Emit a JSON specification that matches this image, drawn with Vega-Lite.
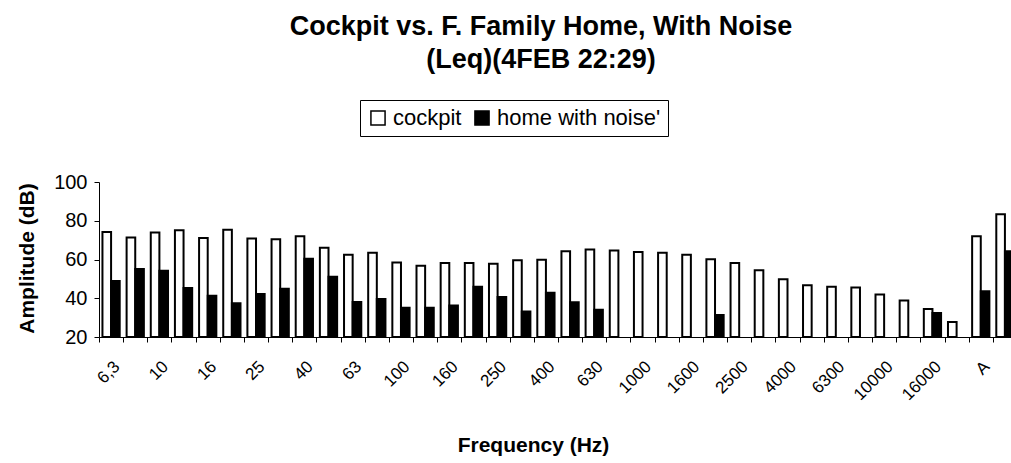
{
  "$schema": "https://vega.github.io/schema/vega-lite/v6.json",
  "autosize": {"type": "none"},
  "width": 912,
  "height": 155,
  "padding": {"left": 99, "top": 182, "right": 0, "bottom": 126},
  "background": "white",
  "config": {
    "font": "Liberation Sans",
    "view": {"stroke": null}
  },
  "title": {
    "text": ["Cockpit vs. F. Family Home, With Noise", "(Leq)(4FEB 22:29)"],
    "font": "Liberation Sans",
    "fontSize": 27,
    "fontWeight": "bold",
    "color": "black",
    "anchor": "middle",
    "dx": -14,
    "lineHeight": 33,
    "offset": 26
  },
  "data": {
    "values": [
      {"f": "6,3", "s": "cockpit", "v": 74.2},
      {"f": "8", "s": "cockpit", "v": 71.4},
      {"f": "10", "s": "cockpit", "v": 73.9},
      {"f": "12,5", "s": "cockpit", "v": 75.1},
      {"f": "16", "s": "cockpit", "v": 71.1},
      {"f": "20", "s": "cockpit", "v": 75.4},
      {"f": "25", "s": "cockpit", "v": 70.8},
      {"f": "31,5", "s": "cockpit", "v": 70.4},
      {"f": "40", "s": "cockpit", "v": 72.0},
      {"f": "50", "s": "cockpit", "v": 66.1},
      {"f": "63", "s": "cockpit", "v": 62.5},
      {"f": "80", "s": "cockpit", "v": 63.5},
      {"f": "100", "s": "cockpit", "v": 58.5},
      {"f": "125", "s": "cockpit", "v": 56.8},
      {"f": "160", "s": "cockpit", "v": 58.2},
      {"f": "200", "s": "cockpit", "v": 58.2},
      {"f": "250", "s": "cockpit", "v": 57.8},
      {"f": "315", "s": "cockpit", "v": 59.6},
      {"f": "400", "s": "cockpit", "v": 59.9},
      {"f": "500", "s": "cockpit", "v": 64.2},
      {"f": "630", "s": "cockpit", "v": 65.1},
      {"f": "800", "s": "cockpit", "v": 64.7},
      {"f": "1000", "s": "cockpit", "v": 63.9},
      {"f": "1250", "s": "cockpit", "v": 63.5},
      {"f": "1600", "s": "cockpit", "v": 62.5},
      {"f": "2000", "s": "cockpit", "v": 60.1},
      {"f": "2500", "s": "cockpit", "v": 58.2},
      {"f": "3150", "s": "cockpit", "v": 54.4},
      {"f": "4000", "s": "cockpit", "v": 49.8},
      {"f": "5000", "s": "cockpit", "v": 46.7},
      {"f": "6300", "s": "cockpit", "v": 46.0},
      {"f": "8000", "s": "cockpit", "v": 45.6},
      {"f": "10000", "s": "cockpit", "v": 42.0},
      {"f": "12500", "s": "cockpit", "v": 38.9},
      {"f": "16000", "s": "cockpit", "v": 34.5},
      {"f": "20000", "s": "cockpit", "v": 27.7},
      {"f": "A", "s": "cockpit", "v": 72.0},
      {"f": "Lin", "s": "cockpit", "v": 83.3},
      {"f": "6,3", "s": "home with noise'", "v": 48.9},
      {"f": "8", "s": "home with noise'", "v": 55.1},
      {"f": "10", "s": "home with noise'", "v": 54.2},
      {"f": "12,5", "s": "home with noise'", "v": 45.3},
      {"f": "16", "s": "home with noise'", "v": 41.3},
      {"f": "20", "s": "home with noise'", "v": 37.4},
      {"f": "25", "s": "home with noise'", "v": 42.2},
      {"f": "31,5", "s": "home with noise'", "v": 44.9},
      {"f": "40", "s": "home with noise'", "v": 60.4},
      {"f": "50", "s": "home with noise'", "v": 51.1},
      {"f": "63", "s": "home with noise'", "v": 38.1},
      {"f": "80", "s": "home with noise'", "v": 39.6},
      {"f": "100", "s": "home with noise'", "v": 35.1},
      {"f": "125", "s": "home with noise'", "v": 35.1},
      {"f": "160", "s": "home with noise'", "v": 36.3},
      {"f": "200", "s": "home with noise'", "v": 46.0},
      {"f": "250", "s": "home with noise'", "v": 40.6},
      {"f": "315", "s": "home with noise'", "v": 33.1},
      {"f": "400", "s": "home with noise'", "v": 42.9},
      {"f": "500", "s": "home with noise'", "v": 37.9},
      {"f": "630", "s": "home with noise'", "v": 34.1},
      {"f": "2000", "s": "home with noise'", "v": 31.4},
      {"f": "16000", "s": "home with noise'", "v": 32.4},
      {"f": "A", "s": "home with noise'", "v": 43.6},
      {"f": "Lin", "s": "home with noise'", "v": 64.2}
    ]
  },
  "mark": {"type": "bar", "stroke": "black", "strokeWidth": 2},
  "encoding": {
    "x": {
      "field": "f",
      "type": "nominal",
      "sort": ["6,3","8","10","12,5","16","20","25","31,5","40","50","63","80","100","125","160","200","250","315","400","500","630","800","1000","1250","1600","2000","2500","3150","4000","5000","6300","8000","10000","12500","16000","20000","A","Lin"],
      "scale": {"paddingInner": 0, "paddingOuter": 0, "range": [0, 918]},
      "axis": {
        "title": "Frequency (Hz)",
        "titleFont": "Liberation Sans",
        "titleFontSize": 21,
        "titleFontWeight": "bold",
        "titleColor": "black",
        "titleX": 434,
        "titleY": 108,
        "titleAlign": "center",
        "titleBaseline": "middle",
        "tickBand": "extent",
        "tickSize": 5,
        "tickColor": "black",
        "domainColor": "black",
        "labelColor": "black",
        "labelFont": "Liberation Sans",
        "labelFontSize": 17,
        "labelAngle": -45,
        "labelPadding": 16,
        "labelOverlap": false,
        "labelExpr": "indexof(['6,3','10','16','25','40','63','100','160','250','400','630','1000','1600','2500','4000','6300','10000','16000','A'], datum.value) >= 0 ? datum.value : ''",
        "encode": {
          "labels": {
            "update": {
              "angle": {"signal": "datum.value === 'A' ? 0 : -45"},
              "align": {"signal": "datum.value === 'A' ? 'center' : 'right'"},
              "dx": {"signal": "datum.value === 'A' ? -16 : 0"}
            }
          }
        }
      }
    },
    "xOffset": {
      "field": "s",
      "type": "nominal",
      "scale": {"paddingInner": 0, "paddingOuter": 0.4}
    },
    "y": {
      "field": "v",
      "type": "quantitative",
      "scale": {"domain": [20, 100], "nice": false, "zero": false},
      "axis": {
        "title": "Amplitude (dB)",
        "titleFont": "Liberation Sans",
        "titleFontSize": 21,
        "titleFontWeight": "bold",
        "titleColor": "black",
        "titleX": -72,
        "titleY": 76,
        "titleAngle": -90,
        "titleAlign": "center",
        "titleBaseline": "middle",
        "values": [20, 40, 60, 80, 100],
        "grid": false,
        "tickSize": 5,
        "tickColor": "black",
        "domainColor": "black",
        "labelColor": "black",
        "labelFont": "Liberation Sans",
        "labelFontSize": 20,
        "labelPadding": 7
      }
    },
    "y2": {"datum": 20},
    "fill": {
      "field": "s",
      "type": "nominal",
      "scale": {"domain": ["cockpit", "home with noise'"], "range": ["white", "black"]},
      "legend": {
        "title": null,
        "orient": "none",
        "direction": "horizontal",
        "legendX": 261,
        "legendY": -82,
        "strokeColor": "black",
        "fillColor": "white",
        "padding": 7,
        "symbolType": "square",
        "symbolSize": 200,
        "symbolStrokeColor": "black",
        "symbolStrokeWidth": 1.5,
        "labelFont": "Liberation Sans",
        "labelFontSize": 22,
        "labelColor": "black",
        "labelLimit": 500,
        "labelOffset": 4,
        "columnPadding": 9
      }
    }
  }
}
